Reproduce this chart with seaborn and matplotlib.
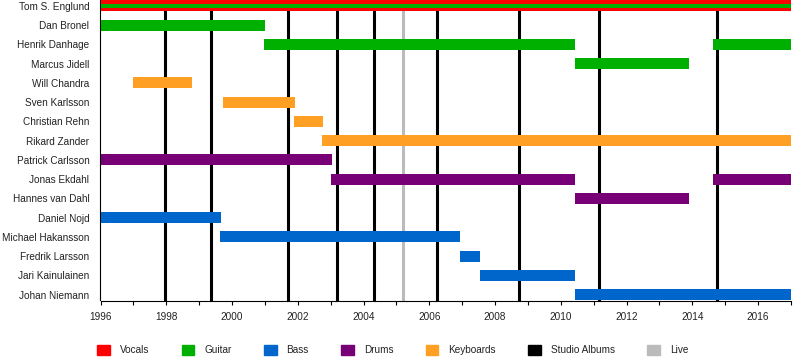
import matplotlib
matplotlib.use("Agg")
import matplotlib.pyplot as plt
import matplotlib.patches as mpatches
from matplotlib.ticker import MultipleLocator
import seaborn as sns

members = ["Tom S. Englund", "Dan Bronel", "Henrik Danhage", "Marcus Jidell",
           "Will Chandra", "Sven Karlsson", "Christian Rehn", "Rikard Zander",
           "Patrick Carlsson", "Jonas Ekdahl", "Hannes van Dahl", "Daniel Nojd",
           "Michael Hakansson", "Fredrik Larsson", "Jari Kainulainen", "Johan Niemann"]

bar_member = ["Tom S. Englund", "Tom S. Englund", "Dan Bronel", "Henrik Danhage",
              "Henrik Danhage", "Marcus Jidell", "Will Chandra", "Sven Karlsson",
              "Christian Rehn", "Rikard Zander", "Patrick Carlsson", "Jonas Ekdahl",
              "Jonas Ekdahl", "Hannes van Dahl", "Daniel Nojd", "Michael Hakansson",
              "Fredrik Larsson", "Jari Kainulainen", "Johan Niemann"]
bar_role = ["Vocals", "Guitar", "Guitar", "Guitar",
            "Guitar", "Guitar", "Keyboards", "Keyboards",
            "Keyboards", "Keyboards", "Drums", "Drums",
            "Drums", "Drums", "Bass", "Bass",
            "Bass", "Bass", "Bass"]
bar_start = [1996.0, 1996.0, 1996.0, 2000.98,
             2014.64, 2010.42, 1997.0, 1999.73,
             2001.9, 2002.75, 1996.0, 2003.02,
             2014.64, 2010.42, 1996.0, 1999.64,
             2006.92, 2007.53, 2010.42]
bar_end = [2017.0, 2017.0, 2001.0, 2010.42,
           2017.0, 2013.9, 1998.77, 2001.92,
           2002.77, 2017.0, 2003.04, 2010.42,
           2017.0, 2013.9, 1999.66, 2006.93,
           2007.54, 2010.42, 2017.0]

role_names = ["Vocals", "Guitar", "Bass", "Drums", "Keyboards"]
role_colors = ["#FF0000", "#00B000", "#0066CC", "#770077", "#FF9F24"]

album_years = [1997.97, 1999.36, 2001.71, 2003.18, 2004.33, 2006.24, 2008.74, 2011.17, 2014.76]
live_years = [2005.21]

sns.set_style("white")
plt.rcParams['font.family'] = ['Liberation Sans', 'DejaVu Sans']

color_of = dict(zip(role_names, role_colors))
text_color = "#222222"

fig = plt.figure(figsize=(8, 3.6), dpi=100)
ax = fig.add_axes([100.5 / 800, 1 - 300.5 / 360, (791 - 100.5) / 800, 300.5 / 360])

for x in album_years:
    ax.axvline(x, color="black", linewidth=2.2, zorder=1)
for x in live_years:
    ax.axvline(x, color="#BBBBBB", linewidth=2.2, zorder=1)

bar_h = 0.57
drawn = set()
for m, r, s, e in zip(bar_member, bar_role, bar_start, bar_end):
    row = members.index(m)
    key = (m, s, e)
    h = bar_h * 0.4 if key in drawn else bar_h
    ax.barh(row, e - s, left=s, height=h, color=color_of[r], linewidth=0, zorder=3)
    drawn.add(key)

ax.set_xlim(1996, 2017)
ax.set_ylim(15.3, -0.31)
ax.set_yticks(range(len(members)))
ax.set_yticklabels(members)
ax.xaxis.set_major_locator(MultipleLocator(2))
ax.xaxis.set_minor_locator(MultipleLocator(1))
ax.tick_params(axis="x", which="both", direction="out", length=3, width=0.8,
               color="black", labelcolor=text_color, labelsize=7.2, pad=5, bottom=True)
ax.tick_params(axis="y", length=0, labelsize=7.2, pad=8, labelcolor=text_color)
ax.spines["top"].set_visible(False)
ax.spines["right"].set_visible(False)
for sp in ["left", "bottom"]:
    ax.spines[sp].set_color("black")
    ax.spines[sp].set_linewidth(0.8)
ax.grid(False)

handles = [mpatches.Patch(color=c, label=n) for n, c in zip(role_names, role_colors)]
handles.append(mpatches.Patch(color="black", label="Studio Albums"))
handles.append(mpatches.Patch(color="#BBBBBB", label="Live"))
leg = fig.legend(handles=handles, loc="lower center", bbox_to_anchor=(0.491, -0.012), ncol=7,
                 frameon=False, fontsize=7.2, handlelength=1.25, handleheight=1.25,
                 handletextpad=1.0, columnspacing=3.25)
for t in leg.get_texts():
    t.set_color(text_color)

fig.savefig("out.png", dpi=100)
